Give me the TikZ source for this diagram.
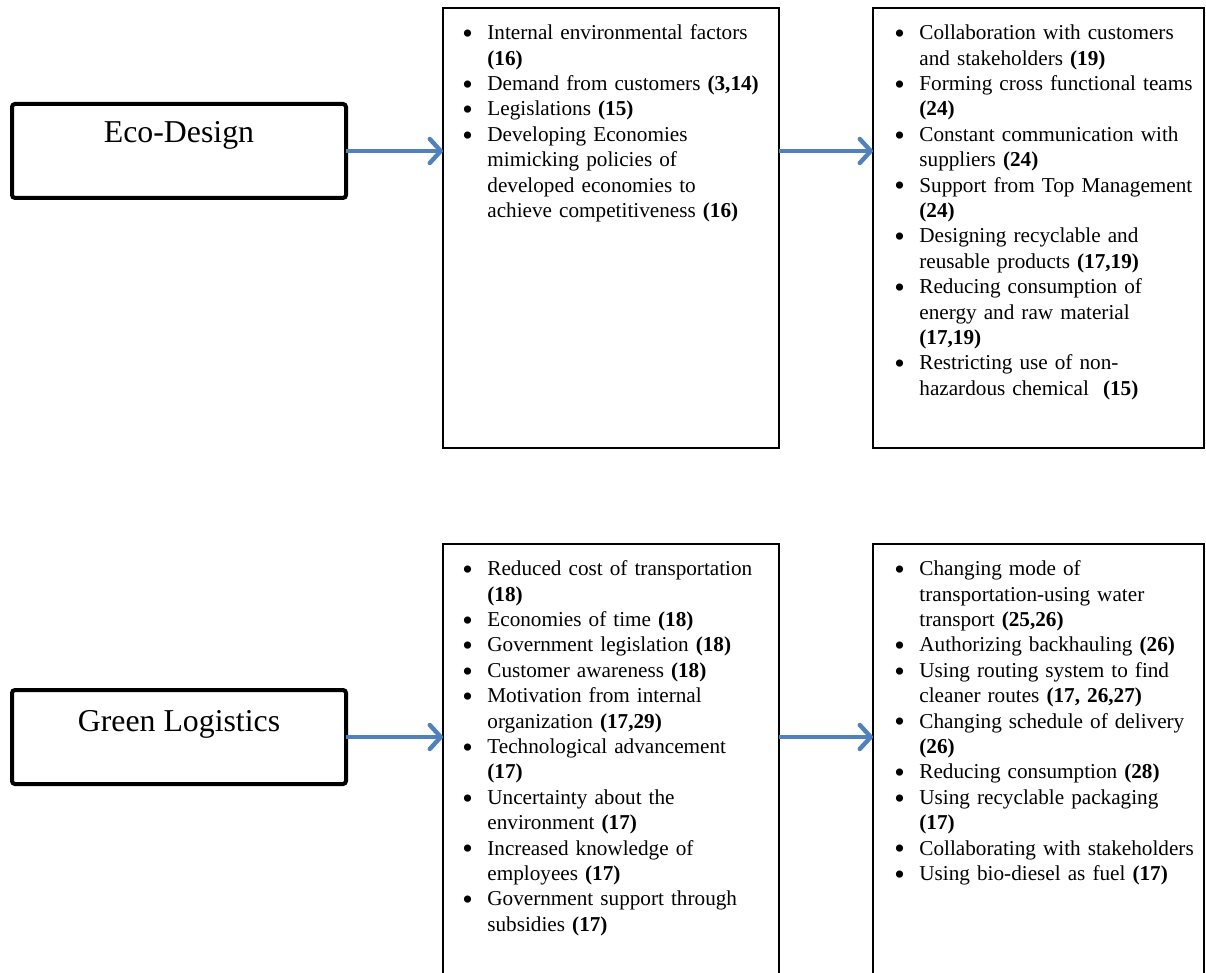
\documentclass[tikz,border=0pt]{standalone}
\usepackage{fontspec}
\setmainfont{Liberation Serif}
\usetikzlibrary{arrows.meta}
\definecolor{arrowblue}{HTML}{4F81BD}
\setlength\parskip{0pt}
\newcommand\bigbul{\smash{\raisebox{-1.9pt}{\fontsize{15}{12}\selectfont\textbullet}}}
\newcommand\bul[1]{\par\noindent\hangindent=11.5pt\hangafter=1\makebox[11.5pt][l]{\hspace{-1pt}\bigbul}\strut#1\par}
\tikzset{
  titlebox/.style={draw, line width=2pt, rounded corners=1.5pt, minimum width=167pt, minimum height=47pt, inner sep=0pt, outer sep=0pt},
  titletext/.style={font=\fontsize{15.9}{18}\selectfont, anchor=base, inner sep=0pt},
  listbox/.style={draw, line width=1pt, inner sep=0pt, outer sep=0pt, anchor=north west},
  listtext/.style={anchor=north west, inner sep=0pt, text width=175pt, align=left, font=\fontsize{10.6}{12.7}\selectfont},
  flow/.style={arrowblue, line width=2.2pt, -{Straight Barb[length=5.5pt, width=12pt, line width=2.2pt, round]}}
}
\begin{document}
\begin{tikzpicture}[x=0.5pt, y=-0.5pt]
\useasboundingbox (0,0) rectangle (1206,973);
\clip (0,0) rectangle (1206,973);
\fill[white] (0,0) rectangle (1206,973);

% title boxes
\node[titlebox] (eco) at (179,151) {};
\node[titletext] (ecot) at ([yshift=-19.5pt]eco.north) {Eco-Design};
\node[titlebox] (gl) at (179,737) {};
\node[titletext] (glt) at ([yshift=-20.5pt]gl.north) {Green Logistics};

% list boxes
\node[listbox, minimum width=168pt, minimum height=220pt] (m1) at (443,8) {};
\node[listbox, minimum width=165.5pt, minimum height=220pt] (r1) at (873,8) {};
\node[listbox, minimum width=168pt, minimum height=240pt] (m2) at (443,544) {};
\node[listbox, minimum width=165.5pt, minimum height=240pt] (r2) at (873,544) {};

% list texts
\node[listtext] (m1t) at (464,14) {%
\bul{Internal environmental factors\newline\textbf{(16)}}
\bul{Demand from customers \textbf{(3,14)}}
\bul{Legislations \textbf{(15)}}
\bul{Developing Economies\newline mimicking policies of\newline developed economies to\newline achieve competitiveness \textbf{(16)}}};

\node[listtext] (r1t) at (896,14) {%
\bul{Collaboration with customers\newline and stakeholders \textbf{(19)}}
\bul{Forming cross functional teams\newline\textbf{(24)}}
\bul{Constant communication with\newline suppliers \textbf{(24)}}
\bul{Support from Top Management\newline\textbf{(24)}}
\bul{Designing recyclable and\newline reusable products \textbf{(17,19)}}
\bul{Reducing consumption of\newline energy and raw material\newline\textbf{(17,19)}}
\bul{Restricting use of non-\newline hazardous chemical\ \ \textbf{(15)}}};

\node[listtext] (m2t) at (464,550) {%
\bul{Reduced cost of transportation\newline\textbf{(18)}}
\bul{Economies of time \textbf{(18)}}
\bul{Government legislation \textbf{(18)}}
\bul{Customer awareness \textbf{(18)}}
\bul{Motivation from internal\newline organization \textbf{(17,29)}}
\bul{Technological advancement\newline\textbf{(17)}}
\bul{Uncertainty about the\newline environment \textbf{(17)}}
\bul{Increased knowledge of\newline employees \textbf{(17)}}
\bul{Government support through\newline subsidies \textbf{(17)}}};

\node[listtext] (r2t) at (896,550) {%
\bul{Changing mode of\newline transportation-using water\newline transport \textbf{(25,26)}}
\bul{Authorizing backhauling \textbf{(26)}}
\bul{Using routing system to find\newline cleaner routes \textbf{(17, 26,27)}}
\bul{Changing schedule of delivery\newline\textbf{(26)}}
\bul{Reducing consumption \textbf{(28)}}
\bul{Using recyclable packaging\newline\textbf{(17)}}
\bul{Collaborating with stakeholders}
\bul{Using bio-diesel as fuel \textbf{(17)}}};

% connectors
\draw[flow] (eco.east) -- (eco.east -| m1.west);
\draw[flow] (m1.east |- eco.east) -- (r1.west |- eco.east);
\draw[flow] (gl.east) -- (gl.east -| m2.west);
\draw[flow] (m2.east |- gl.east) -- (r2.west |- gl.east);
\end{tikzpicture}
\end{document}
